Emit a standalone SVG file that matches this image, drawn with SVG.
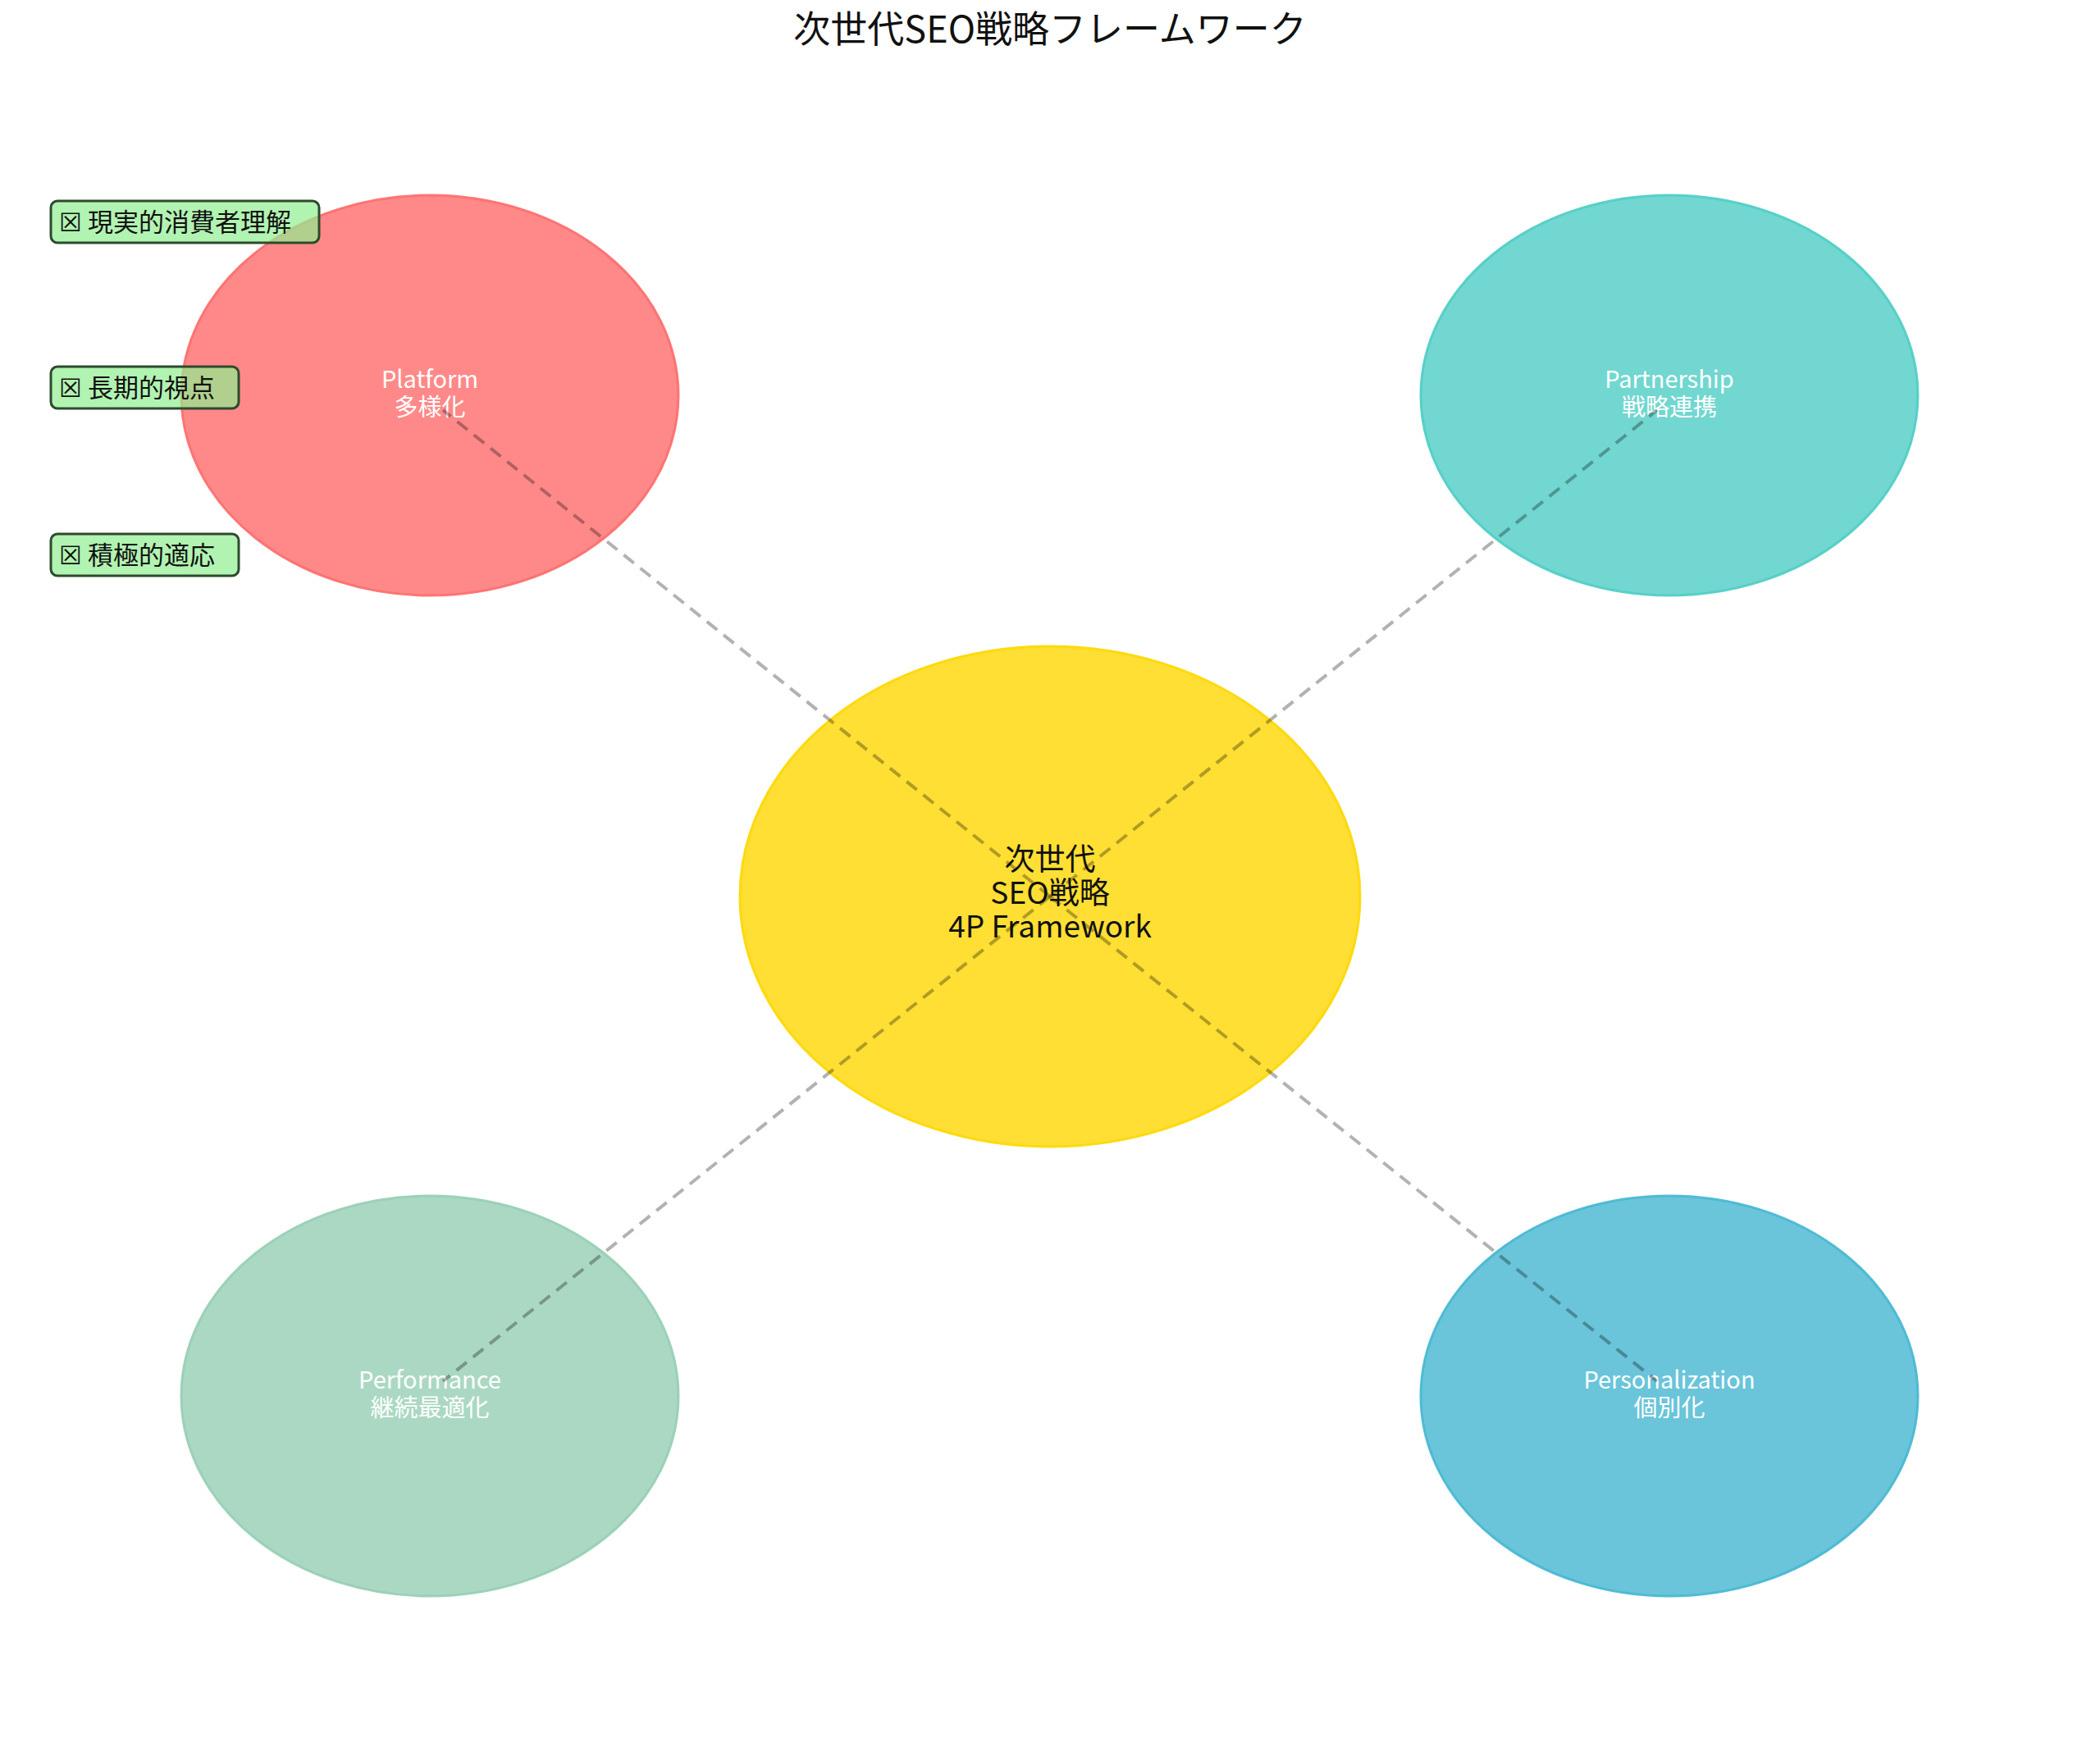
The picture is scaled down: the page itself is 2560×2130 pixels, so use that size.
<svg xmlns="http://www.w3.org/2000/svg" width="2560" height="2130" viewBox="0 0 2560 2130">
<style>
text{font-family:"Noto Sans CJK JP","Noto Sans",sans-serif;text-anchor:middle}
.n{fill:#fff;font-size:29px}
.c{fill:#111;font-size:37px}
.l{fill:#111;font-size:31px;text-anchor:start}
.b{fill:#90EE90;fill-opacity:0.7;stroke:#2d4a2d;stroke-width:3}
.e{stroke-width:3;stroke-opacity:0.9}
</style>
<rect width="2560" height="2130" fill="#fff"/>
<text x="1280" y="52" font-size="45" fill="#111">次世代SEO戦略フレームワーク</text>
<g id="n-platform"><ellipse cx="524" cy="482" rx="303" ry="244" fill="#FF6B6B" fill-opacity="0.8" stroke="#FF6B6B" class="e"/><text class="n" x="524" y="473">Platform</text><text class="n" x="524" y="507">多様化</text></g>
<g id="n-partnership"><ellipse cx="2035" cy="482" rx="303" ry="244" fill="#4ECDC4" fill-opacity="0.8" stroke="#4ECDC4" class="e"/><text class="n" x="2035" y="473">Partnership</text><text class="n" x="2035" y="507">戦略連携</text></g>
<g id="n-performance"><ellipse cx="524" cy="1702" rx="303" ry="244" fill="#96CEB4" fill-opacity="0.8" stroke="#96CEB4" class="e"/><text class="n" x="524" y="1693">Performance</text><text class="n" x="524" y="1727">継続最適化</text></g>
<g id="n-personalization"><ellipse cx="2035" cy="1702" rx="303" ry="244" fill="#45B7D1" fill-opacity="0.8" stroke="#45B7D1" class="e"/><text class="n" x="2035" y="1693">Personalization</text><text class="n" x="2035" y="1727">個別化</text></g>
<g id="n-center"><ellipse cx="1280" cy="1093" rx="378" ry="305" fill="#FFD700" fill-opacity="0.8" stroke="#FFD700" class="e"/><text class="c" x="1280" y="1061">次世代</text><text class="c" x="1280" y="1102">SEO戦略</text><text class="c" x="1280" y="1143">4P Framework</text></g>
<g id="connectors" stroke="#000" stroke-opacity="0.3" stroke-width="4" stroke-dasharray="16,10" fill="none">
<line x1="1280" y1="1093" x2="540" y2="500"/>
<line x1="1280" y1="1093" x2="2020" y2="500"/>
<line x1="1280" y1="1093" x2="540" y2="1684"/>
<line x1="1280" y1="1093" x2="2020" y2="1684"/>
</g>
<g id="labels">
<rect class="b" x="62" y="245" width="327" height="51" rx="8"/><text class="l" x="72" y="282">☒ 現実的消費者理解</text>
<rect class="b" x="62" y="447" width="229" height="51" rx="8"/><text class="l" x="72" y="484">☒ 長期的視点</text>
<rect class="b" x="62" y="651" width="229" height="51" rx="8"/><text class="l" x="72" y="688">☒ 積極的適応</text>
</g>
</svg>
